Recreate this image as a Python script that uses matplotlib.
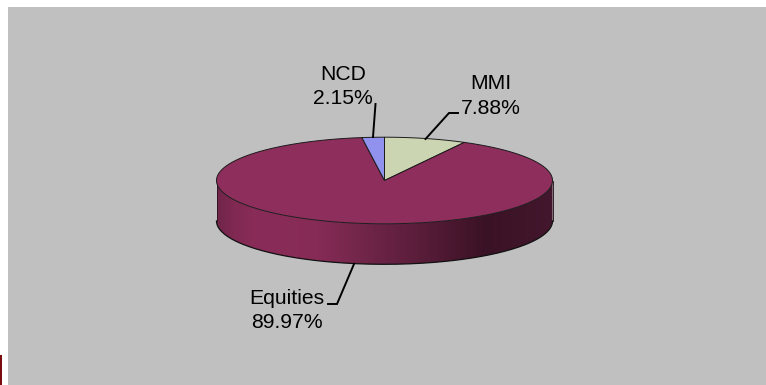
import numpy as np
import matplotlib
matplotlib.use("Agg")
import matplotlib.pyplot as plt
from matplotlib.colors import LinearSegmentedColormap
from matplotlib.patches import Polygon, Rectangle

plt.rcParams["font.family"] = ["Liberation Sans", "DejaVu Sans"]

# ----------------------------------------------------------------------
# Data (clockwise from 12 o'clock)
# ----------------------------------------------------------------------
categories = ["MMI", "Equities", "NCD"]
shares = [7.88, 89.97, 2.15]

# ----------------------------------------------------------------------
# Styling / layout, in pixels of the 766x385 image
# ----------------------------------------------------------------------
COLORS = ["#ccd5b1", "#8e2e5c", "#9191ee"]
BACKGROUND = "#c0c0c0"
CX, CY = 384.5, 180.5
RX, RY = 168.0, 43.3
DEPTH = 40.5

SIDE_STOPS = [
    (0.00, "#702549"), (0.05, "#802952"), (0.12, "#8a2c59"), (0.30, "#862b56"),
    (0.45, "#6f2548"), (0.62, "#571c38"), (0.80, "#3a1225"), (1.00, "#43172d"),
]

LABEL_POS = {
    "MMI": (490.7, 89, "center"),
    "Equities": (287, 304, "center"),
    "NCD": (342.7, 80, "center"),
}
LEADERS = {
    "MMI": ([458, 449, 425.5], [113, 113, 139]),
    "Equities": ([328, 337, 354], [304, 304, 264]),
    "NCD": ([375.5, 373], [104, 137]),
}


def rim(start_deg, end_deg, n=200):
    """Points on the top ellipse, angles clockwise from 12 o'clock."""
    t = np.radians(np.linspace(start_deg, end_deg, n))
    return CX + RX * np.sin(t), CY - RY * np.cos(t)


def draw_side(ax):
    """Shaded cylinder wall below the top face."""
    x, y = rim(90, 270)
    outline = np.vstack([
        np.column_stack([x, y]),
        np.column_stack([x[::-1], y[::-1] + DEPTH]),
    ])
    wall = Polygon(outline, closed=True, facecolor="none", edgecolor="none", zorder=2)
    ax.add_patch(wall)

    cmap = LinearSegmentedColormap.from_list("wall", SIDE_STOPS)
    gradient = np.linspace(0, 1, 512).reshape(1, -1)
    im = ax.imshow(
        gradient, cmap=cmap, aspect="auto", zorder=2,
        extent=(CX - RX, CX + RX, CY + RY + DEPTH + 1, CY),
    )
    im.set_clip_path(wall)

    # edges of the wall
    ax.plot(x, y + DEPTH, color="#111111", lw=0.9, zorder=3)
    ax.plot([CX - RX, CX - RX], [CY, CY + DEPTH], color="#2a1020", lw=0.6, zorder=3)
    ax.plot([CX + RX, CX + RX], [CY, CY + DEPTH], color="#1a0a12", lw=0.6, zorder=3)


def draw_top(ax):
    """Top face wedges, sized from the shares."""
    total = sum(shares)
    start = 0.0
    for share, color in zip(shares, COLORS):
        end = start + 360.0 * share / total
        x, y = rim(start, end)
        pts = np.vstack([[CX, CY], np.column_stack([x, y])])
        ax.add_patch(Polygon(pts, closed=True, facecolor=color,
                             edgecolor="#1c1c1c", lw=0.7, zorder=4))
        start = end


def draw_labels(ax):
    for name, share in zip(categories, shares):
        x, y, ha = LABEL_POS[name]
        ax.text(x, y, name, ha=ha, va="baseline", fontsize=15.2, color="black", zorder=6)
        ax.text(x, y + 24.5, f"{share:.2f}%", ha=ha, va="baseline",
                fontsize=15.2, color="black", zorder=6)
        lx, ly = LEADERS[name]
        ax.plot(lx, ly, color="black", lw=1.4, zorder=5, solid_joinstyle="miter")


def main():
    fig = plt.figure(figsize=(7.66, 3.85), dpi=100, facecolor="white")
    ax = fig.add_axes([0, 0, 1, 1])
    ax.add_patch(Rectangle((8, 7), 758, 378, facecolor=BACKGROUND, edgecolor="none", zorder=0))
    # small dark red sliver in the bottom-left corner
    ax.add_patch(Rectangle((0, 355), 2, 30, facecolor="#7a0c10", edgecolor="none", zorder=1))

    draw_side(ax)
    draw_top(ax)
    draw_labels(ax)

    ax.set_xlim(0, 766)
    ax.set_ylim(385, 0)
    ax.axis("off")
    fig.savefig("out.png", dpi=100)
    plt.close(fig)


if __name__ == "__main__":
    main()
